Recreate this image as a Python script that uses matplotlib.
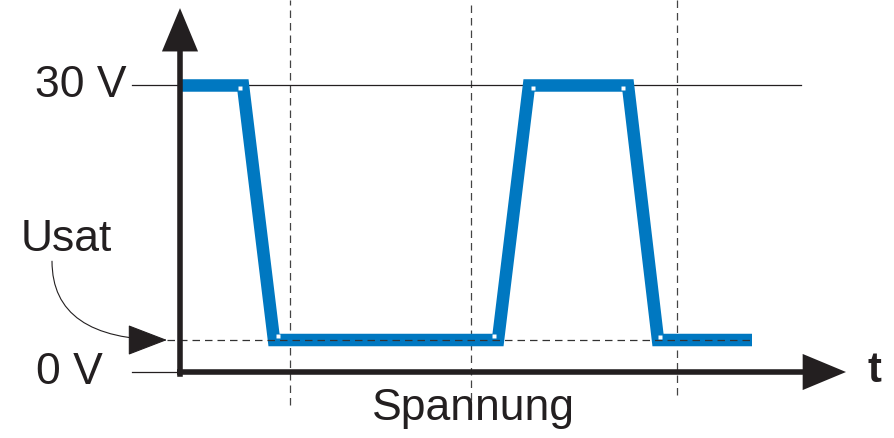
import matplotlib.pyplot as plt
import matplotlib.transforms as mtransforms

plt.rcParams['font.family'] = ['Liberation Sans', 'DejaVu Sans']

# waveform (time in arbitrary units, voltage in V)
t_wave = [0.0, 0.63, 0.94, 3.18, 3.49, 4.48, 4.78, 5.72]
u_wave = [30, 30, 3.35, 3.35, 30, 30, 3.35, 3.35]

u_high = 30
u_sat = 3.35
t_marks = [1.10, 2.91, 4.97]
t_marks_bottom = [-3.5, -2.9, -2.4]

labels_y = ["30 V", "0 V"]
label_sat = "Usat"
label_t = "t"
label_x = "Spannung"

ink = '#231f20'
blue = '#0078c1'

fig = plt.figure(figsize=(8.95, 4.38), dpi=100)
ax = fig.add_axes([0, 0, 1, 1])
ax.set_xlim(-1.8, 7.15)
ax.set_ylim(-6.91, 38.95)
ax.axis('off')

# vertical dashed time marks
for tm, yb in zip(t_marks, t_marks_bottom):
    ax.plot([tm, tm], [yb, 38.95], color='#444444', lw=0.9, dashes=(6, 4), zorder=1)

# thin reference lines
ax.plot([-0.48, 6.21], [u_high, u_high], color=ink, lw=0.9, zorder=2)
ax.plot([-0.48, 0], [0, 0], color=ink, lw=0.9, zorder=2)

# waveform
ax.plot(t_wave, u_wave, color=blue, lw=9, solid_joinstyle='miter',
        solid_capstyle='butt', zorder=3)

# Usat dashed line (on top of the blue trace)
ax.plot([-0.13, 5.73], [u_sat, u_sat], color='#333333', lw=0.9, dashes=(6, 4), zorder=4)

# small white notches at the inner corners
offsets = [(-3, -3), (4, 4), (-4, 4), (4, -3), (-5, -3), (2, 3)]
for (tx, uy), (dx, dy) in zip(zip(t_wave[1:7], u_wave[1:7]), offsets):
    tr = ax.transData + mtransforms.ScaledTranslation(dx / 100, dy / 100, fig.dpi_scale_trans)
    ax.plot([tx], [uy], marker='s', ms=3.4, color='white', mec='none',
            transform=tr, zorder=5)

# axes with arrows
arrow_kw = dict(arrowstyle='-|>,head_length=24,head_width=10', color=ink, lw=4,
                shrinkA=0, shrinkB=0, mutation_scale=1, joinstyle='miter',
                capstyle='butt')
ax.annotate('', xy=(0, 38.1), xytext=(0, -0.5), arrowprops=arrow_kw, zorder=6)
ax.annotate('', xy=(6.66, 0), xytext=(-0.03, 0), arrowprops=arrow_kw, zorder=6)

# Usat pointer
ax.annotate('', xy=(-0.13, u_sat), xytext=(-1.28, 11.6),
            arrowprops=dict(arrowstyle='-|>,head_length=26,head_width=10', color=ink,
                            lw=0.8, shrinkA=0, shrinkB=0, mutation_scale=1,
                            connectionstyle='angle3,angleA=90,angleB=0'), zorder=6)

# texts
ax.text(-0.53, u_high, labels_y[0], ha='right', va='center', fontsize=32, color=ink)
ax.text(-0.77, 0, labels_y[1], ha='right', va='center', fontsize=32, color=ink)
ax.text(-1.14, 13.9, label_sat, ha='center', va='center', fontsize=32, color=ink)
ax.text(6.94, 0.1, label_t, ha='center', va='center', fontsize=30, fontweight='bold', color=ink)
ax.text(2.93, -3.8, label_x, ha='center', va='center', fontsize=32, color=ink)

fig.savefig('out.png', dpi=100)
